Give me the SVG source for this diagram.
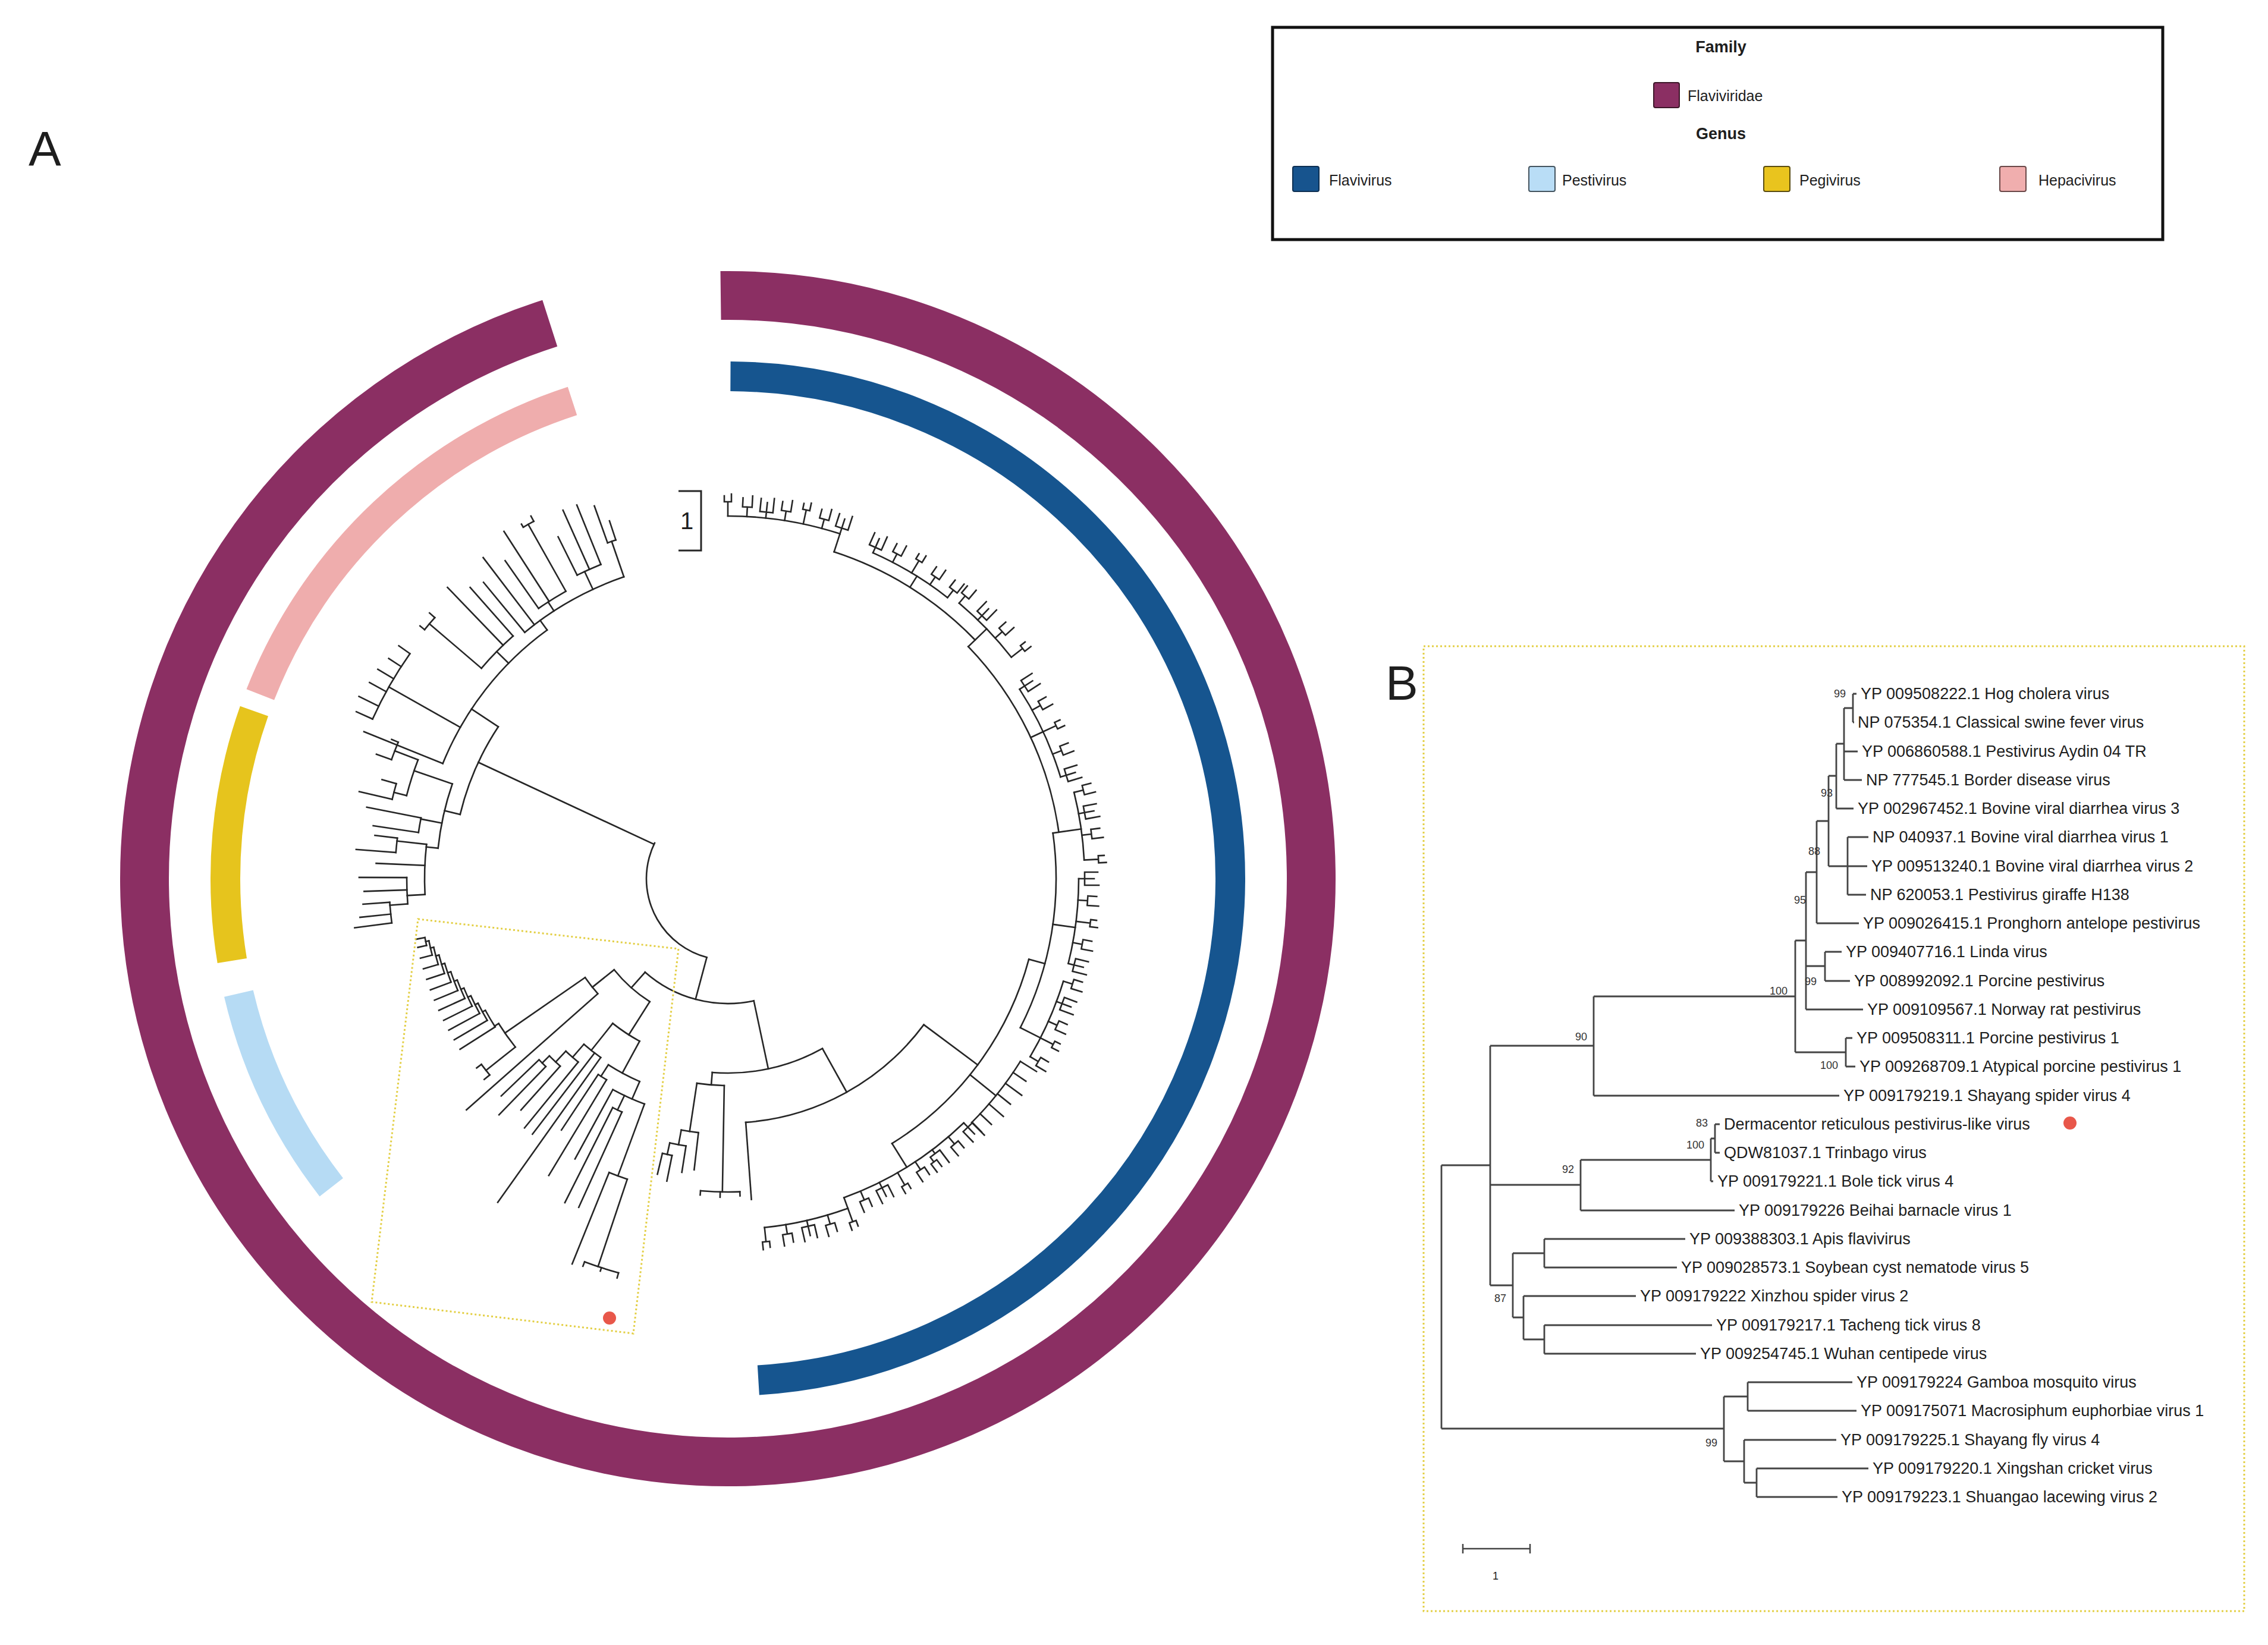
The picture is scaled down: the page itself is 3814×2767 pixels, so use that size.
<svg xmlns="http://www.w3.org/2000/svg" width="3814" height="2767" viewBox="0 0 3814 2767">
<style>
.lbl{font-family:"Liberation Sans",Arial,sans-serif;fill:#1e1e1e}
.sup{font-family:"Liberation Sans",Arial,sans-serif;font-size:18px;fill:#333;text-anchor:end}
.tree{fill:none;stroke:#262626;stroke-width:2.6;stroke-linecap:square}
.ring{fill:none}
.dot{fill:none;stroke:#E3CF45;stroke-width:3;stroke-dasharray:3 4}
</style>
<defs>
<path id="w1" d="M0 0h16M16-8v16M16-8h15M16 8h19"/>
<path id="w2" d="M0 0h10M10-11v22M10-11h22M10 0h16M10 11h24"/>
<path id="w3" d="M0 0h24M24-6v12M24-6h10M24 6h13"/>
<path id="w4" d="M0 0h8M8-10v20M8-10h26M8 10h10M18 4v12M18 4h14M18 16h17"/>
</defs>
<rect width="3814" height="2767" fill="#fff"/>

<g id="panel-labels" class="lbl" font-size="82">
<text x="48" y="278">A</text>
<text x="2330" y="1177">B</text>
</g>

<g id="legend">
<rect x="2140" y="46" width="1497" height="357" fill="#fff" stroke="#111" stroke-width="5"/>
<text class="lbl" x="2894" y="88" font-size="27" font-weight="bold" text-anchor="middle">Family</text>
<rect x="2781" y="139" width="43" height="42" rx="3" fill="#8B2F63" stroke="#3d1629" stroke-width="2"/>
<text class="lbl" x="2838" y="170" font-size="25">Flaviviridae</text>
<text class="lbl" x="2894" y="234" font-size="27" font-weight="bold" text-anchor="middle">Genus</text>
<rect x="2174" y="280" width="44" height="42" rx="3" fill="#17548E" stroke="#0d2f52" stroke-width="2"/>
<text class="lbl" x="2235" y="312" font-size="25">Flavivirus</text>
<rect x="2571" y="280" width="44" height="42" rx="3" fill="#B9DDF6" stroke="#44545f" stroke-width="2"/>
<text class="lbl" x="2627" y="312" font-size="25">Pestivirus</text>
<rect x="2966" y="280" width="44" height="42" rx="3" fill="#E9C41E" stroke="#5a4c10" stroke-width="2"/>
<text class="lbl" x="3026" y="312" font-size="25">Pegivirus</text>
<rect x="3363" y="280" width="44" height="42" rx="3" fill="#F0AEAE" stroke="#6a4848" stroke-width="2"/>
<text class="lbl" x="3428" y="312" font-size="25">Hepacivirus</text>
</g>

<g id="rings" transform="translate(1224 1478)" class="ring">
<circle id="ring-flaviviridae" r="981" stroke="#8B2F63" stroke-width="82" transform="rotate(-90.7)" stroke-dasharray="5871 9999"/>
<circle id="ring-flavivirus" r="845" stroke="#16558F" stroke-width="50" transform="rotate(-89.7)" stroke-dasharray="2598.5 9999"/>
<circle id="ring-hepacivirus" r="845" stroke="#EFADAD" stroke-width="50" transform="rotate(201.5)" stroke-dasharray="744.3 9999"/>
<circle id="ring-pegivirus" r="845" stroke="#E6C41D" stroke-width="50" transform="rotate(170.6)" stroke-dasharray="426 9999"/>
<circle id="ring-pestivirus" r="845" stroke="#B6DBF4" stroke-width="50" transform="rotate(142.1)" stroke-dasharray="364.1 9999"/>
</g>

<g id="tree-A" class="tree" transform="translate(1224 1478)">
<!-- root -->
<circle r="137" transform="rotate(105)" stroke-dasharray="241.5 9999"/>
<path transform="rotate(205)" d="M137 0H463"/>
<path transform="rotate(105)" d="M137 0H210"/>
<circle r="210" transform="rotate(78)" stroke-dasharray="196.1 9999"/>
<path transform="rotate(131.5)" d="M210 0H245"/>
<path transform="rotate(78)" d="M210 0H327"/>
<!-- boxed clade -->
<circle r="245" transform="rotate(122.4)" stroke-dasharray="80.8 9999"/>
<path transform="rotate(141.3)" d="M245 0H292"/>
<circle r="292" transform="rotate(138.5)" stroke-dasharray="34.7 9999"/>
<path transform="rotate(138.5)" d="M292 0H587"/>
<path transform="rotate(145.3)" d="M292 0H456"/>
<circle r="456" transform="rotate(141.6)" stroke-dasharray="48.5 9999"/>
<path transform="rotate(141.6)" d="M456 0H519"/>
<circle r="519" transform="rotate(140.5)" stroke-dasharray="22.6 9999"/>
<path transform="rotate(140.5)" d="M519 0H531"/>
<path transform="rotate(143)" d="M519 0H529"/>
<path transform="rotate(147.7)" d="M456 0H464"/>
<circle r="464" transform="rotate(147.5)" stroke-dasharray="32.4 9999"/>
<circle r="469.5" transform="rotate(149.5)" stroke-dasharray="32.8 9999"/>
<circle r="475" transform="rotate(151.5)" stroke-dasharray="33.1 9999"/>
<circle r="480.5" transform="rotate(153.5)" stroke-dasharray="33.4 9999"/>
<circle r="486" transform="rotate(155.5)" stroke-dasharray="33.6 9999"/>
<circle r="491.5" transform="rotate(157.5)" stroke-dasharray="33.6 9999"/>
<circle r="497" transform="rotate(159.5)" stroke-dasharray="33.3 9999"/>
<circle r="502.5" transform="rotate(161.5)" stroke-dasharray="32.4 9999"/>
<circle r="508" transform="rotate(163.5)" stroke-dasharray="29.9 9999"/>
<circle r="513.5" transform="rotate(165.5)" stroke-dasharray="24.6 9999"/>
<circle r="519" transform="rotate(167.5)" stroke-dasharray="13.6 9999"/>
<path transform="rotate(151.5)" d="M464 0H469.5"/>
<path transform="rotate(153.5)" d="M469.5 0H475"/>
<path transform="rotate(155.49)" d="M475 0H480.5"/>
<path transform="rotate(157.48)" d="M480.5 0H486"/>
<path transform="rotate(159.46)" d="M486 0H491.5"/>
<path transform="rotate(161.42)" d="M491.5 0H497"/>
<path transform="rotate(163.34)" d="M497 0H502.5"/>
<path transform="rotate(165.19)" d="M502.5 0H508"/>
<path transform="rotate(166.875)" d="M508 0H513.5"/>
<path transform="rotate(168.25)" d="M513.5 0H519"/>
<path transform="rotate(147.5)" d="M464 0H534"/>
<path transform="rotate(149.5)" d="M469.5 0H534"/>
<path transform="rotate(151.5)" d="M475 0H534"/>
<path transform="rotate(153.5)" d="M480.5 0H534"/>
<path transform="rotate(155.5)" d="M486 0H534"/>
<path transform="rotate(157.5)" d="M491.5 0H534"/>
<path transform="rotate(159.5)" d="M497 0H534"/>
<path transform="rotate(161.5)" d="M502.5 0H534"/>
<path transform="rotate(163.5)" d="M508 0H534"/>
<path transform="rotate(165.5)" d="M513.5 0H534"/>
<path transform="rotate(167.5)" d="M519 0H534"/>
<path transform="rotate(169)" d="M519 0H534"/>
<path transform="rotate(122.4)" d="M245 0H311"/>
<circle r="311" transform="rotate(118.5)" stroke-dasharray="54.3 9999"/>
<path transform="rotate(128.5)" d="M311 0H369"/>
<circle r="369" transform="rotate(125.4)" stroke-dasharray="36.1 9999"/>
<path transform="rotate(125.4)" d="M369 0H668"/>
<path transform="rotate(127.4)" d="M369 0H541"/>
<path transform="rotate(131)" d="M369 0H398"/>
<circle r="398" transform="rotate(129.2)" stroke-dasharray="27.8 9999"/>
<path transform="rotate(129.2)" d="M398 0H541"/>
<path transform="rotate(133.2)" d="M398 0H423"/>
<circle r="423" transform="rotate(131.8)" stroke-dasharray="25.1 9999"/>
<path transform="rotate(131.8)" d="M423 0H522"/>
<path transform="rotate(135.2)" d="M423 0H440"/>
<circle r="440" transform="rotate(134.1)" stroke-dasharray="16.1 9999"/>
<path transform="rotate(134.1)" d="M440 0H553"/>
<path transform="rotate(136.2)" d="M440 0H528"/>
<path transform="rotate(118.5)" d="M311 0H372"/>
<circle r="372" transform="rotate(113.5)" stroke-dasharray="59.7 9999"/>
<path transform="rotate(122.7)" d="M372 0H395"/>
<circle r="395" transform="rotate(121.1)" stroke-dasharray="16.5 9999"/>
<path transform="rotate(121.1)" d="M395 0H583"/>
<path transform="rotate(123.5)" d="M395 0H507"/>
<path transform="rotate(113.5)" d="M372 0H404"/>
<circle r="404" transform="rotate(110.3)" stroke-dasharray="58.5 9999"/>
<path transform="rotate(118.6)" d="M404 0H537"/>
<path transform="rotate(115.5)" d="M404 0H431"/>
<circle r="431" transform="rotate(114.4)" stroke-dasharray="17.3 9999"/>
<path transform="rotate(116.7)" d="M431 0H610"/>
<path transform="rotate(114.4)" d="M431 0H607"/>
<path transform="rotate(110.3)" d="M404 0H533"/>
<circle r="533" transform="rotate(108.5)" stroke-dasharray="32.6 9999"/>
<path transform="rotate(112)" d="M533 0H699"/>
<path transform="rotate(108.5)" d="M533 0H688"/>
<circle r="688" transform="rotate(105.5)" stroke-dasharray="60 9999"/>
<path transform="rotate(105.5)" d="M688 0H697"/>
<path transform="rotate(108)" d="M688 0H694"/>
<path transform="rotate(110.5)" d="M688 0H696"/>
<!-- flavivirus side -->
<circle r="327" transform="rotate(60.9)" stroke-dasharray="192.3 9999"/>
<path transform="rotate(94.6)" d="M327 0H348"/>
<circle r="348" transform="rotate(91)" stroke-dasharray="46.2 9999"/>
<path transform="rotate(91)" d="M348 0H527"/>
<circle r="527" transform="rotate(87.8)" stroke-dasharray="66.2 9999"/>
<path transform="rotate(87.8)" d="M527 0H534"/>
<path transform="rotate(91.4)" d="M527 0H536"/>
<path transform="rotate(95)" d="M527 0H534"/>
<path transform="rotate(98.6)" d="M348 0H430"/>
<circle r="430" transform="rotate(96.6)" stroke-dasharray="29.3 9999"/>
<path transform="rotate(96.6)" d="M430 0H493"/>
<path transform="rotate(100.5)" d="M430 0H455"/>
<circle r="455" transform="rotate(98.9)" stroke-dasharray="27.8 9999"/>
<path transform="rotate(98.9)" d="M455 0H500"/>
<path transform="rotate(102.4)" d="M455 0H475"/>
<circle r="475" transform="rotate(101.4)" stroke-dasharray="16.6 9999"/>
<path transform="rotate(101.4)" d="M475 0H519"/>
<path transform="rotate(103.4)" d="M475 0H511"/>
<path transform="rotate(60.9)" d="M327 0H411"/>
<circle r="411" transform="rotate(36.7)" stroke-dasharray="352.2 9999"/>
<path transform="rotate(85.8)" d="M411 0H541"/>
<path transform="rotate(36.7)" d="M411 0H524"/>
<circle r="524" transform="rotate(15)" stroke-dasharray="395.1 9999"/>
<path transform="rotate(58.2)" d="M524 0H571"/>
<circle r="571" transform="rotate(46)" stroke-dasharray="239.2 9999"/>
<path transform="rotate(70)" d="M571 0H590"/>
<circle r="590" transform="rotate(70)" stroke-dasharray="144.2 9999"/>
<use href="#w2" transform="rotate(46)translate(571)"/>
<use href="#w1" transform="rotate(49.5)translate(571)"/>
<use href="#w4" transform="rotate(53)translate(571)"/>
<use href="#w1" transform="rotate(56.5)translate(571)"/>
<use href="#w3" transform="rotate(60)translate(571)"/>
<use href="#w2" transform="rotate(63.5)translate(571)"/>
<use href="#w1" transform="rotate(67)translate(571)"/>
<use href="#w3" transform="rotate(70)translate(590)"/>
<use href="#w1" transform="rotate(73.5)translate(590)"/>
<use href="#w2" transform="rotate(77)translate(590)"/>
<use href="#w1" transform="rotate(80.5)translate(590)"/>
<use href="#w3" transform="rotate(84)translate(590)"/>
<path transform="rotate(39)" d="M524 0H580"/>
<circle r="580" transform="rotate(32)" stroke-dasharray="131.6 9999"/>
<path transform="rotate(32)" d="M580 0H612"/>
<path transform="rotate(34.2)" d="M580 0H606"/>
<path transform="rotate(36.4)" d="M580 0H614"/>
<path transform="rotate(38.6)" d="M580 0H608"/>
<path transform="rotate(40.8)" d="M580 0H612"/>
<path transform="rotate(43)" d="M580 0H606"/>
<path transform="rotate(45)" d="M580 0H610"/>
<path transform="rotate(15)" d="M524 0H552"/>
<circle r="552" transform="rotate(-8)" stroke-dasharray="337.2 9999"/>
<path transform="rotate(27)" d="M552 0H590"/>
<circle r="590" transform="rotate(17)" stroke-dasharray="139 9999"/>
<use href="#w1" transform="rotate(17)translate(590)"/>
<use href="#w2" transform="rotate(20.5)translate(590)"/>
<use href="#w1" transform="rotate(24)translate(590)"/>
<use href="#w3" transform="rotate(27)translate(590)"/>
<use href="#w1" transform="rotate(30.5)translate(590)"/>
<path transform="rotate(8)" d="M552 0H590"/>
<circle r="590" transform="rotate(0)" stroke-dasharray="144.2 9999"/>
<use href="#w2" transform="rotate(0)translate(590)"/>
<use href="#w1" transform="rotate(3.5)translate(590)"/>
<use href="#w3" transform="rotate(7)translate(590)"/>
<use href="#w1" transform="rotate(10.5)translate(590)"/>
<use href="#w2" transform="rotate(14)translate(590)"/>
<path transform="rotate(-8)" d="M552 0H600"/>
<circle r="562" transform="rotate(-44)" stroke-dasharray="353.1 9999"/>
<circle r="600" transform="rotate(-14)" stroke-dasharray="115.2 9999"/>
<use href="#w1" transform="rotate(-14)translate(600)"/>
<use href="#w2" transform="rotate(-10.5)translate(600)"/>
<use href="#w1" transform="rotate(-7)translate(600)"/>
<use href="#w3" transform="rotate(-3)translate(600)"/>
<path transform="rotate(-25)" d="M562 0H585"/>
<circle r="585" transform="rotate(-33)" stroke-dasharray="163.4 9999"/>
<use href="#w2" transform="rotate(-33)translate(585)"/>
<use href="#w1" transform="rotate(-29)translate(585)"/>
<use href="#w3" transform="rotate(-25)translate(585)"/>
<use href="#w1" transform="rotate(-21)translate(585)"/>
<use href="#w2" transform="rotate(-17)translate(585)"/>
<path transform="rotate(-44)" d="M562 0H605"/>
<circle r="578" transform="rotate(-72)" stroke-dasharray="282.5 9999"/>
<circle r="605" transform="rotate(-50)" stroke-dasharray="126.7 9999"/>
<use href="#w1" transform="rotate(-50)translate(605)"/>
<use href="#w2" transform="rotate(-46)translate(605)"/>
<use href="#w1" transform="rotate(-42)translate(605)"/>
<use href="#w3" transform="rotate(-38)translate(605)"/>
<path transform="rotate(-58)" d="M578 0H600"/>
<circle r="600" transform="rotate(-66)" stroke-dasharray="146.6 9999"/>
<use href="#w2" transform="rotate(-66)translate(600)"/>
<use href="#w1" transform="rotate(-62.5)translate(600)"/>
<use href="#w3" transform="rotate(-59)translate(600)"/>
<use href="#w1" transform="rotate(-55.5)translate(600)"/>
<use href="#w1" transform="rotate(-52)translate(600)"/>
<path transform="rotate(-72)" d="M578 0H610"/>
<circle r="610" transform="rotate(-90)" stroke-dasharray="191.6 9999"/>
<use href="#w3" transform="rotate(-90)translate(610)"/>
<use href="#w1" transform="rotate(-87)translate(610)"/>
<use href="#w2" transform="rotate(-84)translate(610)"/>
<use href="#w1" transform="rotate(-81)translate(610)"/>
<use href="#w3" transform="rotate(-78)translate(610)"/>
<use href="#w1" transform="rotate(-75)translate(610)"/>
<use href="#w2" transform="rotate(-72)translate(610)"/>
<!-- left: pegivirus + hepacivirus -->
<circle r="463" transform="rotate(193.5)" stroke-dasharray="161.6 9999"/>
<path transform="rotate(193.5)" d="M463 0H490"/>
<circle r="490" transform="rotate(186)" stroke-dasharray="111.2 9999"/>
<path transform="rotate(199)" d="M490 0H558"/>
<circle r="558" transform="rotate(194.5)" stroke-dasharray="63.3 9999"/>
<path transform="rotate(201)" d="M558 0H600"/>
<circle r="600" transform="rotate(199.5)" stroke-dasharray="31.4 9999"/>
<path transform="rotate(199.5)" d="M600 0H627"/>
<path transform="rotate(202.5)" d="M600 0H612"/>
<path transform="rotate(194.5)" d="M558 0H580"/>
<circle r="580" transform="rotate(193.3)" stroke-dasharray="27.3 9999"/>
<path transform="rotate(193.3)" d="M580 0H637"/>
<path transform="rotate(196)" d="M580 0H605"/>
<path transform="rotate(191)" d="M490 0H526"/>
<circle r="526" transform="rotate(188.5)" stroke-dasharray="24.8 9999"/>
<path transform="rotate(191.2)" d="M526 0H619"/>
<path transform="rotate(188.5)" d="M526 0H603"/>
<path transform="rotate(186)" d="M490 0H510"/>
<circle r="510" transform="rotate(177)" stroke-dasharray="84.6 9999"/>
<path transform="rotate(186.5)" d="M510 0H560"/>
<circle r="560" transform="rotate(184.5)" stroke-dasharray="24.4 9999"/>
<path transform="rotate(184.5)" d="M560 0H627"/>
<path transform="rotate(187)" d="M560 0H598"/>
<path transform="rotate(182.5)" d="M510 0H592"/>
<path transform="rotate(177)" d="M510 0H540"/>
<circle r="540" transform="rotate(175.5)" stroke-dasharray="44.3 9999"/>
<path transform="rotate(180.2)" d="M540 0H620"/>
<path transform="rotate(178)" d="M540 0H612"/>
<path transform="rotate(175.5)" d="M540 0H570"/>
<circle r="570" transform="rotate(172.5)" stroke-dasharray="34.8 9999"/>
<path transform="rotate(176)" d="M570 0H615"/>
<path transform="rotate(174)" d="M570 0H622"/>
<path transform="rotate(172.5)" d="M570 0H633"/>
<path transform="rotate(213.5)" d="M463 0H517"/>
<circle r="517" transform="rotate(202)" stroke-dasharray="288.7 9999"/>
<path transform="rotate(202)" d="M517 0H660"/>
<path transform="rotate(209.5)" d="M517 0H655"/>
<circle r="655" transform="rotate(204.2)" stroke-dasharray="126.9 9999"/>
<path transform="rotate(204.2)" d="M655 0H685"/>
<path transform="rotate(206.3)" d="M655 0H692"/>
<path transform="rotate(208.7)" d="M655 0H687"/>
<path transform="rotate(210.9)" d="M655 0H686"/>
<path transform="rotate(213)" d="M655 0H680"/>
<path transform="rotate(215.3)" d="M655 0H678"/>
<path transform="rotate(224.5)" d="M517 0H545"/>
<circle r="545" transform="rotate(220.5)" stroke-dasharray="76.1 9999"/>
<path transform="rotate(220.5)" d="M545 0H660"/>
<circle r="660" transform="rotate(219.4)" stroke-dasharray="26.5 9999"/>
<path transform="rotate(219.4)" d="M660 0H670"/>
<path transform="rotate(221.7)" d="M660 0H672"/>
<path transform="rotate(226.1)" d="M545 0H680"/>
<path transform="rotate(228.5)" d="M545 0H654"/>
<path transform="rotate(234)" d="M517 0H537"/>
<circle r="537" transform="rotate(230.5)" stroke-dasharray="192.1 9999"/>
<path transform="rotate(230.5)" d="M537 0H646"/>
<path transform="rotate(232.7)" d="M537 0H679"/>
<path transform="rotate(237)" d="M537 0H555"/>
<circle r="555" transform="rotate(235)" stroke-dasharray="54.2 9999"/>
<path transform="rotate(235)" d="M555 0H653"/>
<path transform="rotate(237.2)" d="M555 0H695"/>
<path transform="rotate(240.6)" d="M555 0H684"/>
<circle r="684" transform="rotate(239.8)" stroke-dasharray="20.3 9999"/>
<path transform="rotate(239.8)" d="M684 0H690"/>
<path transform="rotate(241.5)" d="M684 0H694"/>
<path transform="rotate(245)" d="M537 0H570"/>
<circle r="570" transform="rotate(243.6)" stroke-dasharray="43.8 9999"/>
<path transform="rotate(243.6)" d="M570 0H642"/>
<path transform="rotate(245.9)" d="M570 0H679"/>
<path transform="rotate(248)" d="M570 0H678"/>
<path transform="rotate(251)" d="M537 0H600"/>
<circle r="600" transform="rotate(250.3)" stroke-dasharray="14.7 9999"/>
<path transform="rotate(250.3)" d="M600 0H666"/>
<path transform="rotate(251.7)" d="M600 0H634"/>
</g>

<g id="scale-A">
<path d="M1141 826H1179V926H1141" fill="none" stroke="#262626" stroke-width="3"/>
<text class="lbl" x="1155" y="890" font-size="40" text-anchor="middle">1</text>
</g>

<g id="highlight-box-A">
<polygon class="dot" points="703,1546 1141,1596 1065,2243 625,2190"/>
<circle cx="1025" cy="2217" r="11" fill="#E8574A"/>
</g>

<g id="panel-B">
<rect class="dot" x="2394" y="1087" width="1380" height="1623"/>
<path id="tree-B" fill="none" stroke="#444" stroke-width="2.8" d="M2424 1960V2403M2424 1960H2506M2424 2403H2899
M2506 1759V2162M2506 1759H2680M2506 1993H2658M2506 2162H2544
M2680 1676V1843M2680 1676H3019M2680 1843H3093
M3019 1582V1770M3019 1582H3037M3019 1770H3104
M3104 1746V1794M3104 1746H3115M3104 1794H3120
M3037 1467V1698M3037 1467H3055M3037 1625H3069M3037 1698H3133
M3069 1601V1650M3069 1601H3097M3069 1650H3111
M3055 1381V1553M3055 1381H3075M3055 1553H3126
M3075 1305V1457M3075 1305H3088M3075 1457H3107
M3107 1408V1505M3107 1408H3142M3107 1457H3140M3107 1505H3138
M3088 1251V1360M3088 1251H3101M3088 1360H3117
M3101 1191V1312M3101 1191H3116M3101 1264H3124M3101 1312H3131
M3116 1167V1215M3116 1167H3122M3116 1215H3118
M2658 1951V2036M2658 1951H2877M2658 2036H2917
M2877 1915V1987M2877 1915H2884M2877 1987H2881
M2884 1891V1939M2884 1891H2892M2884 1939H2892
M2544 2108V2216M2544 2108H2597M2544 2216H2562
M2597 2084V2132M2597 2084H2834M2597 2132H2820
M2562 2180V2253M2562 2180H2751M2562 2253H2597
M2597 2229V2277M2597 2229H2879M2597 2277H2852
M2899 2349V2458M2899 2349H2939M2899 2458H2933
M2939 2325V2373M2939 2325H3115M2939 2373H3122
M2933 2422V2494M2933 2422H3088M2933 2494H2954
M2954 2470V2518M2954 2470H3142M2954 2518H3090"/>
<g id="support-B">
<text class="sup" x="3104" y="1173">99</text>
<text class="sup" x="3082" y="1340">93</text>
<text class="sup" x="3061" y="1438">88</text>
<text class="sup" x="3037" y="1520">95</text>
<text class="sup" x="3055" y="1657">99</text>
<text class="sup" x="3006" y="1673">100</text>
<text class="sup" x="2669" y="1750">90</text>
<text class="sup" x="3091" y="1798">100</text>
<text class="sup" x="2872" y="1895">83</text>
<text class="sup" x="2866" y="1932">100</text>
<text class="sup" x="2647" y="1973">92</text>
<text class="sup" x="2533" y="2190">87</text>
<text class="sup" x="2888" y="2433">99</text>
</g>
<g id="leaves-B" class="lbl" font-size="27">
<text x="3129" y="1176">YP 009508222.1 Hog cholera virus</text>
<text x="3124" y="1224">NP 075354.1 Classical swine fever virus</text>
<text x="3131" y="1273">YP 006860588.1 Pestivirus Aydin 04 TR</text>
<text x="3138" y="1321">NP 777545.1 Border disease virus</text>
<text x="3124" y="1369">YP 002967452.1 Bovine viral diarrhea virus 3</text>
<text x="3149" y="1417">NP 040937.1 Bovine viral diarrhea virus 1</text>
<text x="3147" y="1466">YP 009513240.1 Bovine viral diarrhea virus 2</text>
<text x="3145" y="1514">NP 620053.1 Pestivirus giraffe H138</text>
<text x="3133" y="1562">YP 009026415.1 Pronghorn antelope pestivirus</text>
<text x="3104" y="1610">YP 009407716.1 Linda virus</text>
<text x="3118" y="1659">YP 008992092.1 Porcine pestivirus</text>
<text x="3140" y="1707">YP 009109567.1 Norway rat pestivirus</text>
<text x="3122" y="1755">YP 009508311.1 Porcine pestivirus 1</text>
<text x="3127" y="1803">YP 009268709.1 Atypical porcine pestivirus 1</text>
<text x="3100" y="1852">YP 009179219.1 Shayang spider virus 4</text>
<text x="2899" y="1900">Dermacentor reticulous pestivirus-like virus</text>
<text x="2899" y="1948">QDW81037.1 Trinbago virus</text>
<text x="2888" y="1996">YP 009179221.1 Bole tick virus 4</text>
<text x="2924" y="2045">YP 009179226 Beihai barnacle virus 1</text>
<text x="2841" y="2093">YP 009388303.1 Apis flavivirus</text>
<text x="2827" y="2141">YP 009028573.1 Soybean cyst nematode virus 5</text>
<text x="2758" y="2189">YP 009179222 Xinzhou spider virus 2</text>
<text x="2886" y="2238">YP 009179217.1 Tacheng tick virus 8</text>
<text x="2859" y="2286">YP 009254745.1 Wuhan centipede virus</text>
<text x="3122" y="2334">YP 009179224 Gamboa mosquito virus</text>
<text x="3129" y="2382">YP 009175071 Macrosiphum euphorbiae virus 1</text>
<text x="3095" y="2431">YP 009179225.1 Shayang fly virus 4</text>
<text x="3149" y="2479">YP 009179220.1 Xingshan cricket virus</text>
<text x="3097" y="2527">YP 009179223.1 Shuangao lacewing virus 2</text>
</g>
<circle cx="3481" cy="1889" r="11" fill="#E8574A"/>
<g id="scale-B">
<path d="M2460 2605H2573M2460 2597v16M2573 2597v16" fill="none" stroke="#444" stroke-width="2.5"/>
<text class="lbl" x="2515" y="2657" font-size="18" text-anchor="middle">1</text>
</g>
</g>
</svg>
